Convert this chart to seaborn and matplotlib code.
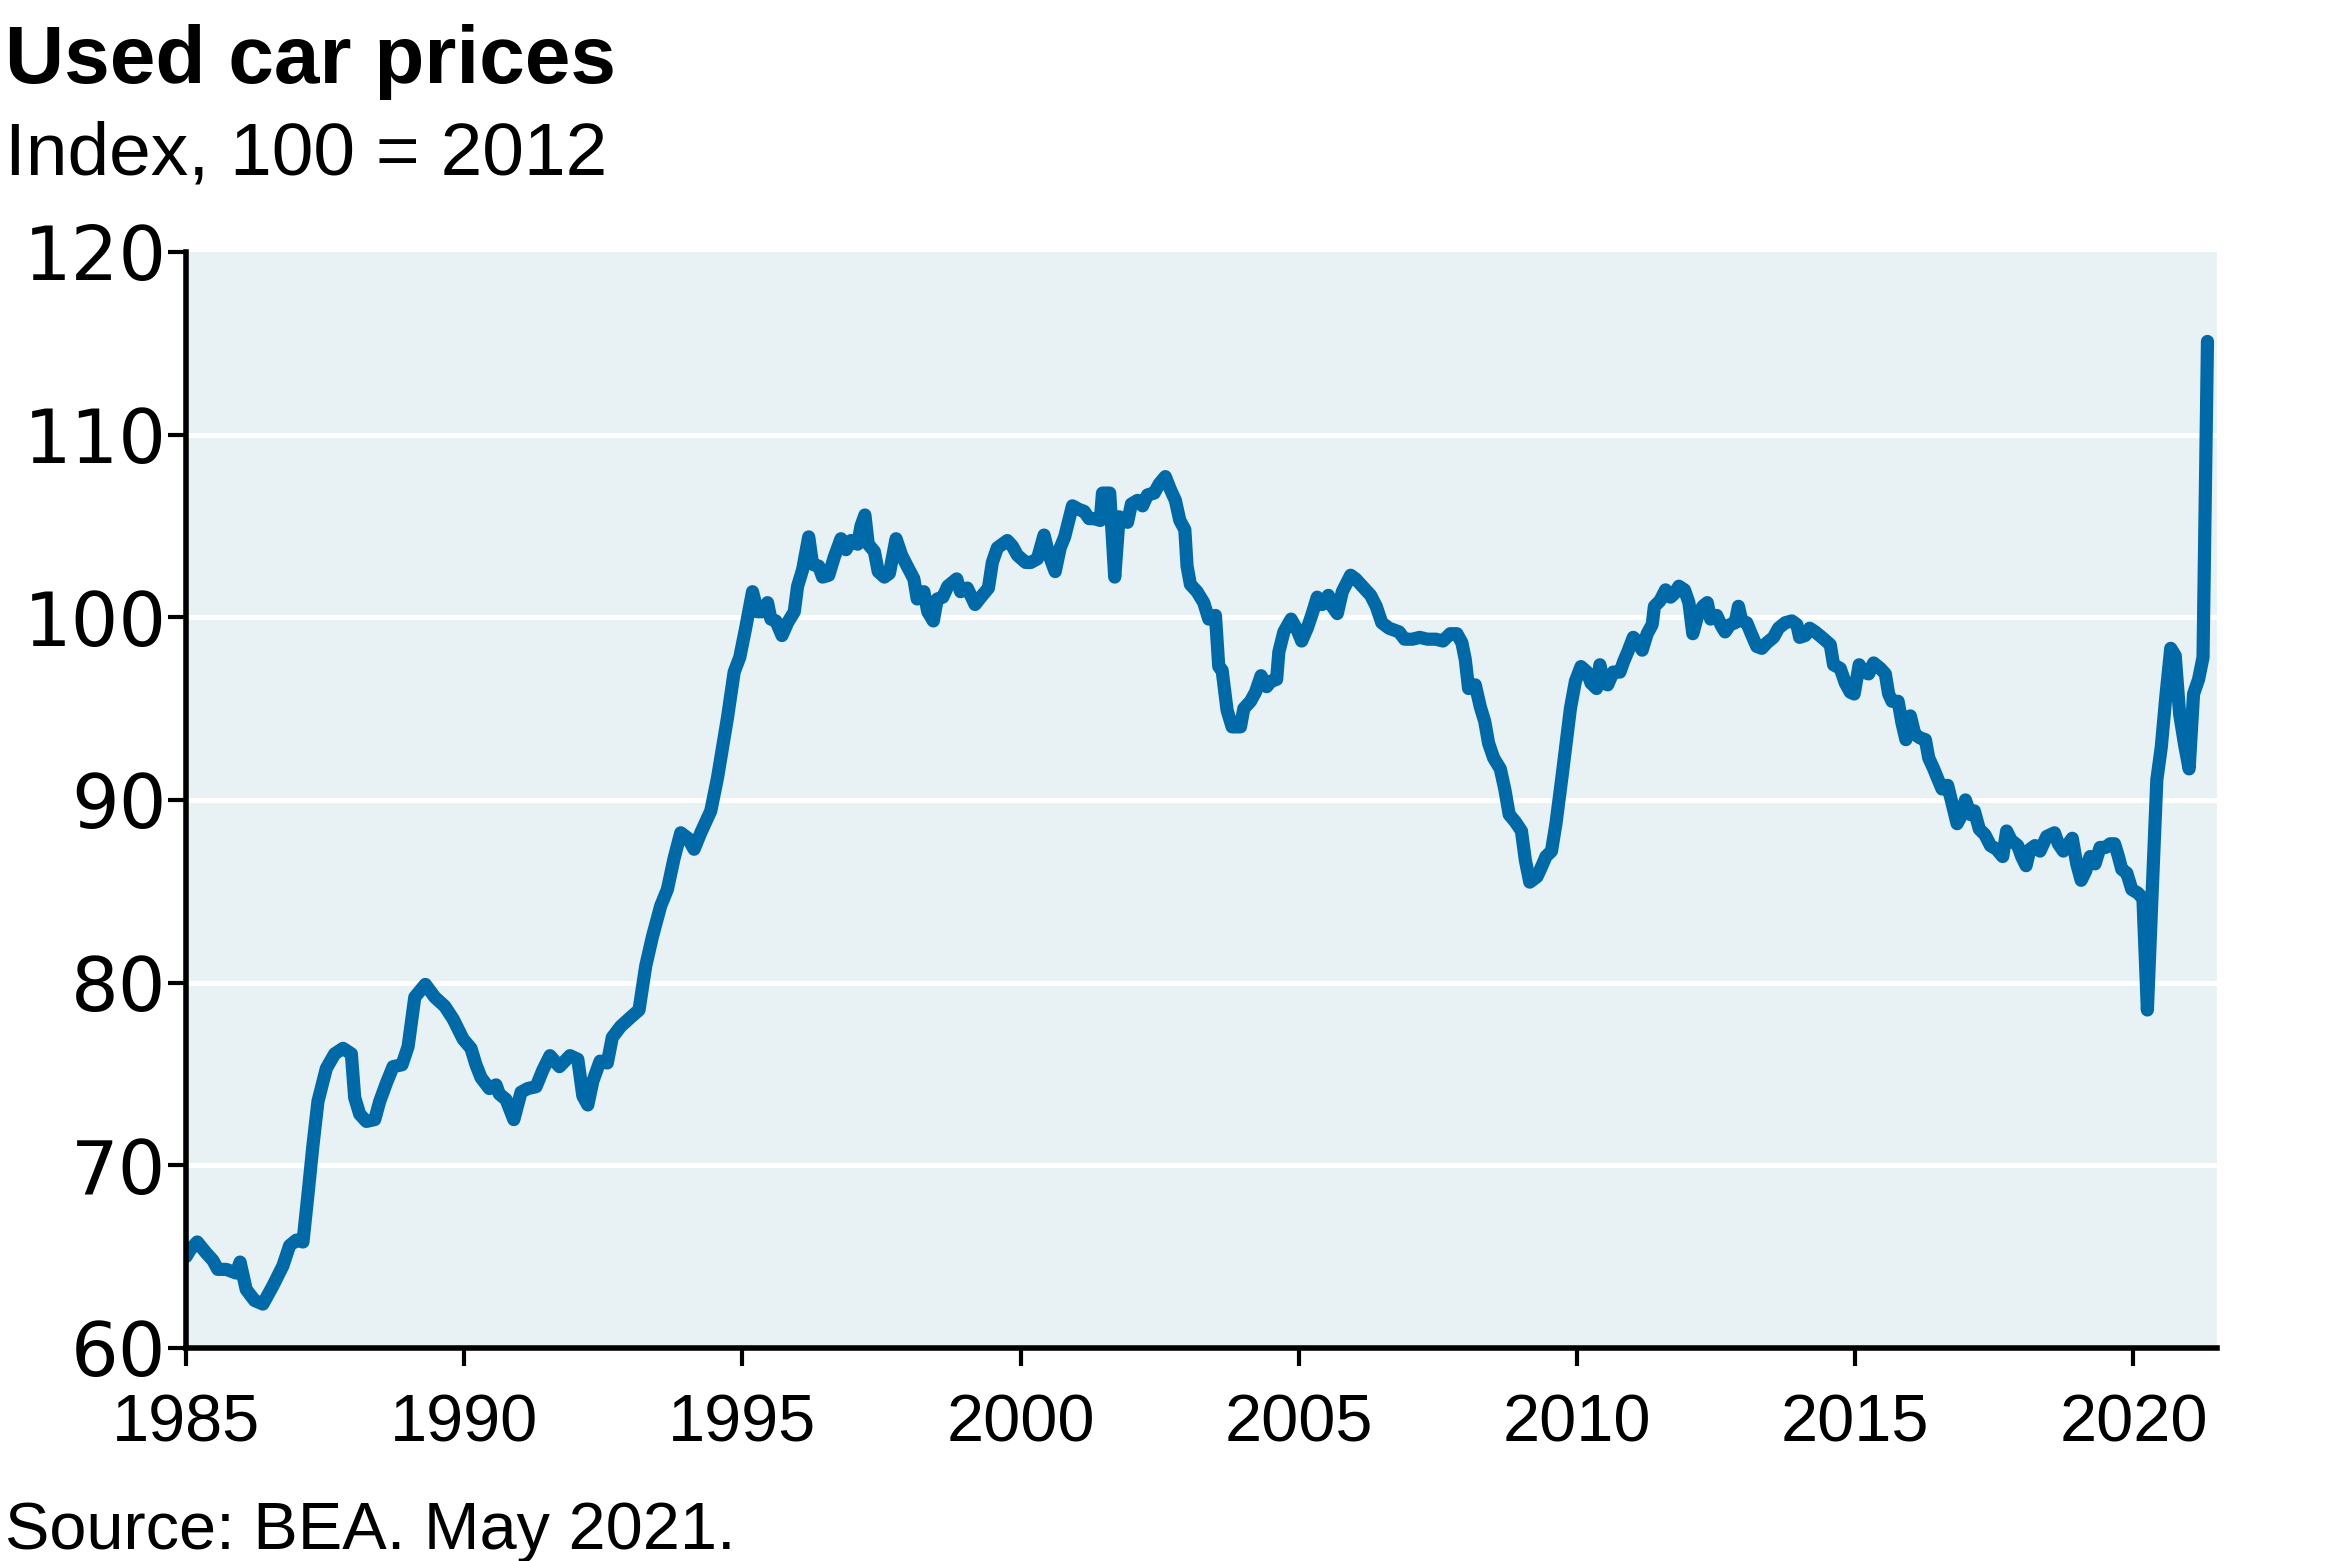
import matplotlib
matplotlib.use("Agg")
import matplotlib.pyplot as plt
import seaborn as sns
import pandas as pd

# ---- data (decimal year, index 2012=100) ----
dates = [
    1985.00, 1985.08, 1985.20, 1985.36, 1985.48, 1985.57, 1985.72, 1985.90, 1985.97,
    1986.08, 1986.23, 1986.38, 1986.56, 1986.74, 1986.86, 1986.98,
    1987.10, 1987.19, 1987.28, 1987.37, 1987.52, 1987.67, 1987.82, 1987.97,
    1988.03, 1988.12, 1988.24, 1988.39, 1988.48, 1988.60, 1988.72, 1988.88, 1988.99,
    1989.11, 1989.30, 1989.47, 1989.65, 1989.80, 1989.98,
    1990.12, 1990.21, 1990.30, 1990.45, 1990.57, 1990.63, 1990.75, 1990.89,
    1991.02, 1991.14, 1991.29, 1991.41, 1991.54, 1991.71, 1991.90,
    1992.04, 1992.13, 1992.22, 1992.31, 1992.44, 1992.57, 1992.66, 1992.81, 1992.99,
    1993.14, 1993.26, 1993.38, 1993.53, 1993.65, 1993.77, 1993.89,
    1994.02, 1994.13, 1994.25, 1994.43, 1994.55, 1994.73, 1994.85, 1994.95,
    1995.05, 1995.18, 1995.27, 1995.36, 1995.45, 1995.51, 1995.60, 1995.71, 1995.81, 1995.93, 1995.99,
    1996.08, 1996.19, 1996.26, 1996.37, 1996.44, 1996.55, 1996.65, 1996.77, 1996.86, 1996.95,
    1997.07, 1997.13, 1997.20, 1997.26, 1997.37, 1997.44, 1997.55, 1997.64, 1997.76, 1997.86, 1997.96,
    1998.08, 1998.14, 1998.26, 1998.33, 1998.43, 1998.50, 1998.60, 1998.69, 1998.85, 1998.92,
    1999.04, 1999.18, 1999.31, 1999.42, 1999.49, 1999.58, 1999.76, 1999.85, 1999.94,
    2000.09, 2000.18, 2000.30, 2000.42, 2000.51, 2000.62, 2000.71, 2000.79, 2000.93,
    2001.05, 2001.14, 2001.23, 2001.32, 2001.43, 2001.47, 2001.60, 2001.69, 2001.77, 2001.92, 2001.99,
    2002.10, 2002.19, 2002.28, 2002.40, 2002.49, 2002.60, 2002.69, 2002.78, 2002.86, 2002.95, 2002.99,
    2003.05, 2003.17, 2003.29, 2003.38, 2003.50, 2003.56, 2003.62, 2003.71, 2003.80, 2003.95,
    2004.01, 2004.13, 2004.22, 2004.32, 2004.42, 2004.50, 2004.60, 2004.64, 2004.73, 2004.86, 2004.97,
    2005.05, 2005.15, 2005.24, 2005.33, 2005.42, 2005.53, 2005.60, 2005.69, 2005.78, 2005.93,
    2006.02, 2006.14, 2006.29, 2006.39, 2006.49, 2006.62, 2006.80, 2006.90,
    2007.04, 2007.17, 2007.31, 2007.46, 2007.59, 2007.72, 2007.84, 2007.93, 2007.99,
    2008.05, 2008.17, 2008.26, 2008.34, 2008.41, 2008.50, 2008.62, 2008.70, 2008.78, 2008.89,
    2009.00, 2009.07, 2009.15, 2009.28, 2009.37, 2009.44, 2009.54, 2009.62, 2009.73, 2009.79, 2009.88, 2009.97,
    2010.07, 2010.18, 2010.25, 2010.35, 2010.41, 2010.48, 2010.55, 2010.65, 2010.77, 2010.84, 2010.91,
    2011.01, 2011.08, 2011.17, 2011.26, 2011.35, 2011.39, 2011.49, 2011.59, 2011.68, 2011.75, 2011.83, 2011.93,
    2012.01, 2012.08, 2012.17, 2012.26, 2012.34, 2012.40, 2012.51, 2012.60, 2012.66, 2012.75, 2012.84, 2012.90, 2012.96,
    2013.05, 2013.13, 2013.23, 2013.32, 2013.41, 2013.53, 2013.62, 2013.74, 2013.86, 2013.95,
    2014.00, 2014.10, 2014.18, 2014.28, 2014.40, 2014.55, 2014.61, 2014.73, 2014.82, 2014.91, 2014.98,
    2015.07, 2015.15, 2015.24, 2015.33, 2015.45, 2015.54, 2015.60, 2015.66, 2015.77, 2015.84, 2015.91, 2015.99,
    2016.07, 2016.16, 2016.26, 2016.32, 2016.41, 2016.49, 2016.56, 2016.66, 2016.74, 2016.83, 2016.90, 2016.98,
    2017.07, 2017.14, 2017.23, 2017.33, 2017.43, 2017.54, 2017.65, 2017.72, 2017.80, 2017.92, 2017.99,
    2018.07, 2018.14, 2018.23, 2018.32, 2018.44, 2018.58, 2018.65, 2018.74, 2018.83, 2018.90, 2018.98,
    2019.06, 2019.14, 2019.22, 2019.31, 2019.40, 2019.50, 2019.58, 2019.66, 2019.73, 2019.79, 2019.88, 2019.97,
    2020.08, 2020.17, 2020.25, 2020.33, 2020.42, 2020.50, 2020.58, 2020.67, 2020.75, 2020.83, 2020.92,
    2021.00, 2021.08, 2021.17, 2021.25, 2021.33,
]
values = [
    65.0, 65.4, 65.8, 65.2, 64.8, 64.3, 64.3, 64.1, 64.7,
    63.2, 62.6, 62.4, 63.4, 64.5, 65.6, 65.9,
    65.8, 68.4, 71.1, 73.5, 75.3, 76.1, 76.4, 76.1,
    73.7, 72.8, 72.4, 72.5, 73.5, 74.5, 75.4, 75.5, 76.5,
    79.2, 79.9, 79.2, 78.7, 78.0, 76.9,
    76.4, 75.5, 74.8, 74.2, 74.4, 73.9, 73.6, 72.5,
    74.0, 74.2, 74.3, 75.2, 76.0, 75.4, 76.0,
    75.8, 73.8, 73.3, 74.6, 75.7, 75.6, 77.0, 77.6, 78.1,
    78.5, 80.9, 82.5, 84.2, 85.1, 86.8, 88.2,
    87.9, 87.3, 88.2, 89.4, 91.2, 94.5, 97.0, 97.8,
    99.3, 101.4, 100.3, 100.3, 100.8, 99.9, 99.8, 99.0, 99.7, 100.3, 101.7,
    102.6, 104.4, 102.9, 102.8, 102.2, 102.3, 103.3, 104.3, 103.7, 104.2,
    104.0, 105.0, 105.6, 104.0, 103.6, 102.5, 102.2, 102.4, 104.3, 103.4, 102.8,
    102.1, 101.0, 101.4, 100.3, 99.8, 101.0, 101.1, 101.7, 102.1, 101.4,
    101.6, 100.7, 101.2, 101.6, 103.0, 103.8, 104.2, 103.9, 103.4,
    103.0, 103.0, 103.2, 104.5, 103.4, 102.5, 103.8, 104.4, 106.1,
    105.9, 105.8, 105.4, 105.4, 105.3, 106.8, 106.8, 102.2, 105.5, 105.2, 106.2,
    106.4, 106.1, 106.7, 106.8, 107.3, 107.7, 107.0, 106.4, 105.3, 104.8, 102.8,
    101.8, 101.4, 100.8, 99.9, 100.1, 97.3, 97.1, 94.9, 94.0, 94.0,
    95.0, 95.4, 95.9, 96.8, 96.2, 96.5, 96.6, 98.1, 99.2, 99.9, 99.3,
    98.7, 99.4, 100.2, 101.1, 100.7, 101.2, 100.6, 100.2, 101.4, 102.3,
    102.1, 101.7, 101.2, 100.6, 99.7, 99.4, 99.2, 98.8,
    98.8, 98.9, 98.8, 98.8, 98.7, 99.1, 99.1, 98.6, 97.7,
    96.1, 96.3, 95.1, 94.3, 93.1, 92.3, 91.7, 90.6, 89.2, 88.8,
    88.3, 86.7, 85.5, 85.8, 86.4, 86.9, 87.2, 88.7, 91.3, 92.8, 95.0, 96.5,
    97.3, 97.0, 96.4, 96.1, 97.4, 96.4, 96.3, 97.0, 97.0, 97.6, 98.1,
    98.9, 98.7, 98.2, 99.1, 99.6, 100.6, 100.9, 101.5, 101.1, 101.3, 101.7, 101.5,
    100.8, 99.1, 100.1, 100.6, 100.8, 99.9, 100.1, 99.5, 99.2, 99.6, 99.7, 100.6, 99.8,
    99.7, 99.1, 98.4, 98.3, 98.6, 98.9, 99.4, 99.7, 99.8, 99.6,
    98.9, 99.0, 99.4, 99.2, 98.9, 98.5, 97.4, 97.2, 96.4, 95.9, 95.8,
    97.4, 97.0, 96.9, 97.5, 97.2, 96.9, 95.8, 95.4, 95.4, 94.2, 93.3, 94.6,
    93.6, 93.4, 93.3, 92.3, 91.7, 91.1, 90.6, 90.8, 89.8, 88.7, 89.1, 90.0,
    89.2, 89.4, 88.4, 88.1, 87.5, 87.3, 86.9, 88.3, 87.8, 87.5, 86.9,
    86.4, 87.3, 87.5, 87.2, 88.0, 88.2, 87.6, 87.2, 87.6, 87.9, 86.5,
    85.6, 86.1, 86.9, 86.5, 87.4, 87.4, 87.6, 87.6, 86.9, 86.2, 86.0, 85.1,
    84.9, 84.6, 78.5, 84.5, 91.1, 92.9, 95.6, 98.3, 97.9, 94.7, 93.0,
    91.7, 95.8, 96.6, 97.8, 115.1,
]

x_ticks = [1985, 1990, 1995, 2000, 2005, 2010, 2015, 2020]
y_ticks = [60, 70, 80, 90, 100, 110, 120]
title = "Used car prices"
subtitle = "Index, 100 = 2012"
source = "Source: BEA. May 2021."

LINE = "#0069A8"
PANEL = "#E8F1F4"

sns.set_theme(style="ticks")
plt.rcParams["font.family"] = ["Liberation Sans", "DejaVu Sans"]

df = pd.DataFrame({"date": dates, "value": values})

fig = plt.figure(figsize=(23.41, 15.61), dpi=100)
ax = fig.add_axes([0.0795, 0.1365, 0.8675, 0.7021])
ax.set_facecolor(PANEL)

for yv in y_ticks[1:-1]:
    ax.axhline(yv, color="white", lw=3.6, zorder=1)

sns.lineplot(data=df, x="date", y="value", ax=ax, color=LINE, lw=9,
             estimator=None, sort=False, zorder=3)
for ln in ax.get_lines()[-1:]:
    ln.set_linewidth(9.5)
    ln.set_solid_capstyle("round")
    ln.set_solid_joinstyle("round")

ax.set_xlim(1985, 2021.5)
ax.set_ylim(60, 120)
ax.set_xticks(x_ticks)
ax.set_yticks(y_ticks)
ax.set_xlabel("")
ax.set_ylabel("")
ax.grid(False)

for s in ["top", "right"]:
    ax.spines[s].set_visible(False)
for s in ["left", "bottom"]:
    ax.spines[s].set_color("black")
    ax.spines[s].set_linewidth(4.0)
    ax.spines[s].set_zorder(4)

ax.tick_params(axis="both", which="major", direction="out", length=13,
               width=3.0, color="black", labelcolor="black")
ax.tick_params(axis="x", pad=20, labelsize=48)
ax.tick_params(axis="y", pad=1, labelsize=54)
for lab in ax.get_yticklabels():
    lab.set_family(["DejaVu Sans"])

fig.text(0.002, 0.947, title, fontsize=59, fontweight="bold", color="black",
         ha="left", va="baseline")
fig.text(0.002, 0.888, subtitle, fontsize=54, color="black",
         ha="left", va="baseline")
fig.text(0.002, 0.008, source, fontsize=48, color="black",
         ha="left", va="baseline")

fig.savefig("out.png", dpi=100, facecolor="white")
